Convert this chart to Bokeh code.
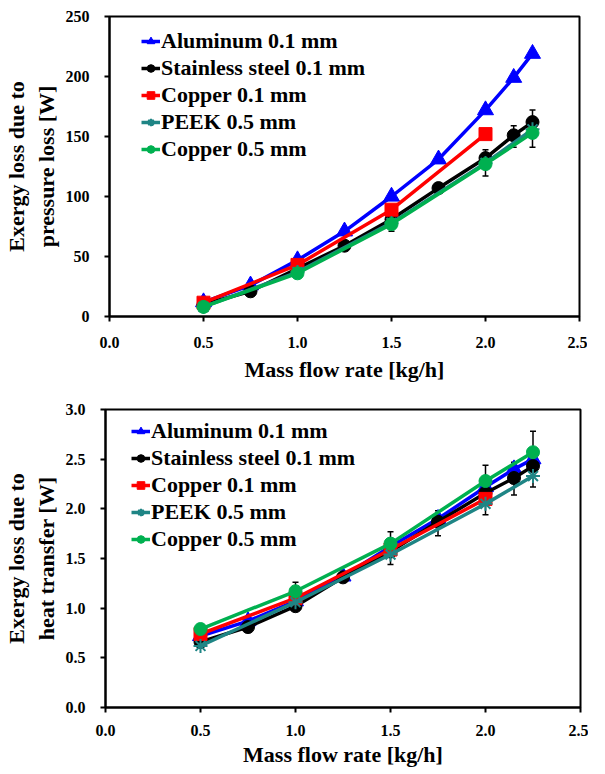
from bokeh.plotting import figure
from bokeh.models import Range1d, FixedTicker, NumeralTickFormatter, ColumnDataSource, Whisker, TeeHead, Legend
from bokeh.embed import file_html
from bokeh.resources import INLINE

# ---------------- data ----------------
x_full = [0.5, 0.75, 1.0, 1.25, 1.5, 1.75, 2.0, 2.15, 2.25]
x_cu1 = [0.5, 1.0, 1.5, 2.0]
x_05 = [0.5, 1.0, 1.5, 2.0, 2.25]

# Top: exergy loss due to pressure loss [W]
al_p = [12, 26, 47, 71, 100, 131, 172, 199, 219]
ss_p = [10, 21, 40, 59, 81, 107, 132, 151, 162]
cu1_p = [11.5, 43, 89, 152]
peek_p = [8, 37, 78, 128, 156]
cu5_p = [8, 36, 77, 127, 153]
err_p_x = [1.5, 2.0, 2.15, 2.25]
err_p_lo = [71, 117, 141, 141]
err_p_hi = [84, 139, 159, 172]

# Bottom: exergy loss due to heat transfer [W]
al_h = [0.72, 0.87, 1.07, 1.32, 1.62, 1.90, 2.22, 2.40, 2.50]
ss_h = [0.66, 0.81, 1.02, 1.31, 1.57, 1.87, 2.16, 2.31, 2.43]
cu1_h = [0.74, 1.10, 1.59, 2.10]
peek_h = [0.62, 1.06, 1.54, 2.05, 2.33]
cu5_h = [0.79, 1.17, 1.65, 2.28, 2.57]
err_h_x = [1.0, 1.25, 1.5, 1.75, 2.0, 2.15, 2.25]
err_h_lo = [1.06, 1.27, 1.44, 1.73, 1.94, 2.14, 2.22]
err_h_hi = [1.26, 1.37, 1.77, 1.98, 2.44, 2.47, 2.78]

labels = ["Aluminum 0.1 mm", "Stainless steel 0.1 mm", "Copper 0.1 mm", "PEEK 0.5 mm", "Copper 0.5 mm"]
x_ticks = [0.0, 0.5, 1.0, 1.5, 2.0, 2.5]
y_ticks_top = [0, 50, 100, 150, 200, 250]
y_ticks_bot = [0.0, 0.5, 1.0, 1.5, 2.0, 2.5, 3.0]

FONT = "Liberation Serif"
colors = ["#0000ff", "#000000", "#ff0000", "#1f8585", "#00b050"]
markers = ["triangle", "circle", "square", "asterisk", "circle"]
msizes = [16, 13, 13, 14, 13]


def style(p, ylabel, yticks, yfmt, xlab_standoff, tick_standoff):
    p.xgrid.visible = False
    p.ygrid.visible = False
    p.outline_line_color = "black"
    p.outline_line_width = 2
    p.xaxis.ticker = FixedTicker(ticks=x_ticks)
    p.xaxis.formatter = NumeralTickFormatter(format="0.0")
    p.yaxis.ticker = FixedTicker(ticks=yticks)
    p.yaxis.formatter = NumeralTickFormatter(format=yfmt)
    p.xaxis.axis_label = "Mass flow rate [kg/h]"
    p.yaxis.axis_label = ylabel
    for ax in (p.xaxis, p.yaxis):
        ax.axis_line_width = 2
        ax.axis_line_color = "black"
        ax.major_tick_line_width = 2
        ax.major_tick_line_color = "black"
        ax.major_tick_out = 5
        ax.major_tick_in = 0
        ax.minor_tick_out = 0
        ax.minor_tick_in = 0
        ax.major_label_text_font = FONT
        ax.major_label_text_font_style = "bold"
        ax.major_label_text_font_size = "16px"
        ax.major_label_text_color = "black"
        ax.axis_label_text_font = FONT
        ax.axis_label_text_font_style = "bold"
        ax.axis_label_text_font_size = "22px"
        ax.axis_label_text_color = "black"
    p.xaxis.major_label_standoff = tick_standoff
    p.yaxis.major_label_standoff = 15
    p.xaxis.axis_label_standoff = xlab_standoff
    p.yaxis.axis_label_standoff = 4


def add_series(p, xs_list, ys_list, ex, elo, ehi, loc):
    items = []
    for i in range(5):
        xs, ys = xs_list[i], ys_list[i]
        r1 = p.line(xs, ys, line_color=colors[i], line_width=3.5)
        if markers[i] == "asterisk":
            r2 = p.scatter(xs, ys, marker="asterisk", size=msizes[i], line_color=colors[i], line_width=2)
        else:
            r2 = p.scatter(xs, ys, marker=markers[i], size=msizes[i], fill_color=colors[i], line_color=colors[i])
        items.append((labels[i], [r1, r2]))
    src = ColumnDataSource(dict(x=ex, lo=elo, hi=ehi))
    w = Whisker(base="x", lower="lo", upper="hi", source=src, line_color="black", line_width=1.5,
                upper_head=TeeHead(size=6, line_color="black", line_width=1.5),
                lower_head=TeeHead(size=6, line_color="black", line_width=1.5))
    p.add_layout(w)
    leg = Legend(items=items, location=loc)
    leg.border_line_color = None
    leg.background_fill_alpha = 0
    leg.padding = 0
    leg.margin = 0
    leg.spacing = 0
    leg.label_height = 27
    leg.glyph_height = 20
    leg.glyph_width = 19
    leg.label_standoff = 1
    leg.label_text_font = FONT
    leg.label_text_font_style = "bold"
    leg.label_text_font_size = "22px"
    leg.label_text_color = "black"
    p.add_layout(leg)


p1 = figure(frame_width=470, frame_height=300,
            min_border_top=16, min_border_left=104, min_border_right=8, min_border_bottom=66,
            x_range=Range1d(0, 2.5), y_range=Range1d(0, 250),
            output_backend="svg", toolbar_location=None)
style(p1, "Exergy loss due to\npressure loss [W]", y_ticks_top, "0", 6, 15)
add_series(p1, [x_full, x_full, x_cu1, x_05, x_05], [al_p, ss_p, cu1_p, peek_p, cu5_p],
           err_p_x, err_p_lo, err_p_hi, (32, 154))

p2 = figure(frame_width=475, frame_height=298,
            min_border_top=25, min_border_left=99, min_border_right=8, min_border_bottom=58,
            x_range=Range1d(0, 2.5), y_range=Range1d(0, 3),
            output_backend="svg", toolbar_location=None)
style(p2, "Exergy loss due to\nheat transfer [W]", y_ticks_bot, "0.0", 3, 12)
add_series(p2, [x_full, x_full, x_cu1, x_05, x_05], [al_h, ss_h, cu1_h, peek_h, cu5_h],
           err_h_x, err_h_lo, err_h_hi, (26, 155))

open("out.html", "w").write(file_html([p1, p2], INLINE))
